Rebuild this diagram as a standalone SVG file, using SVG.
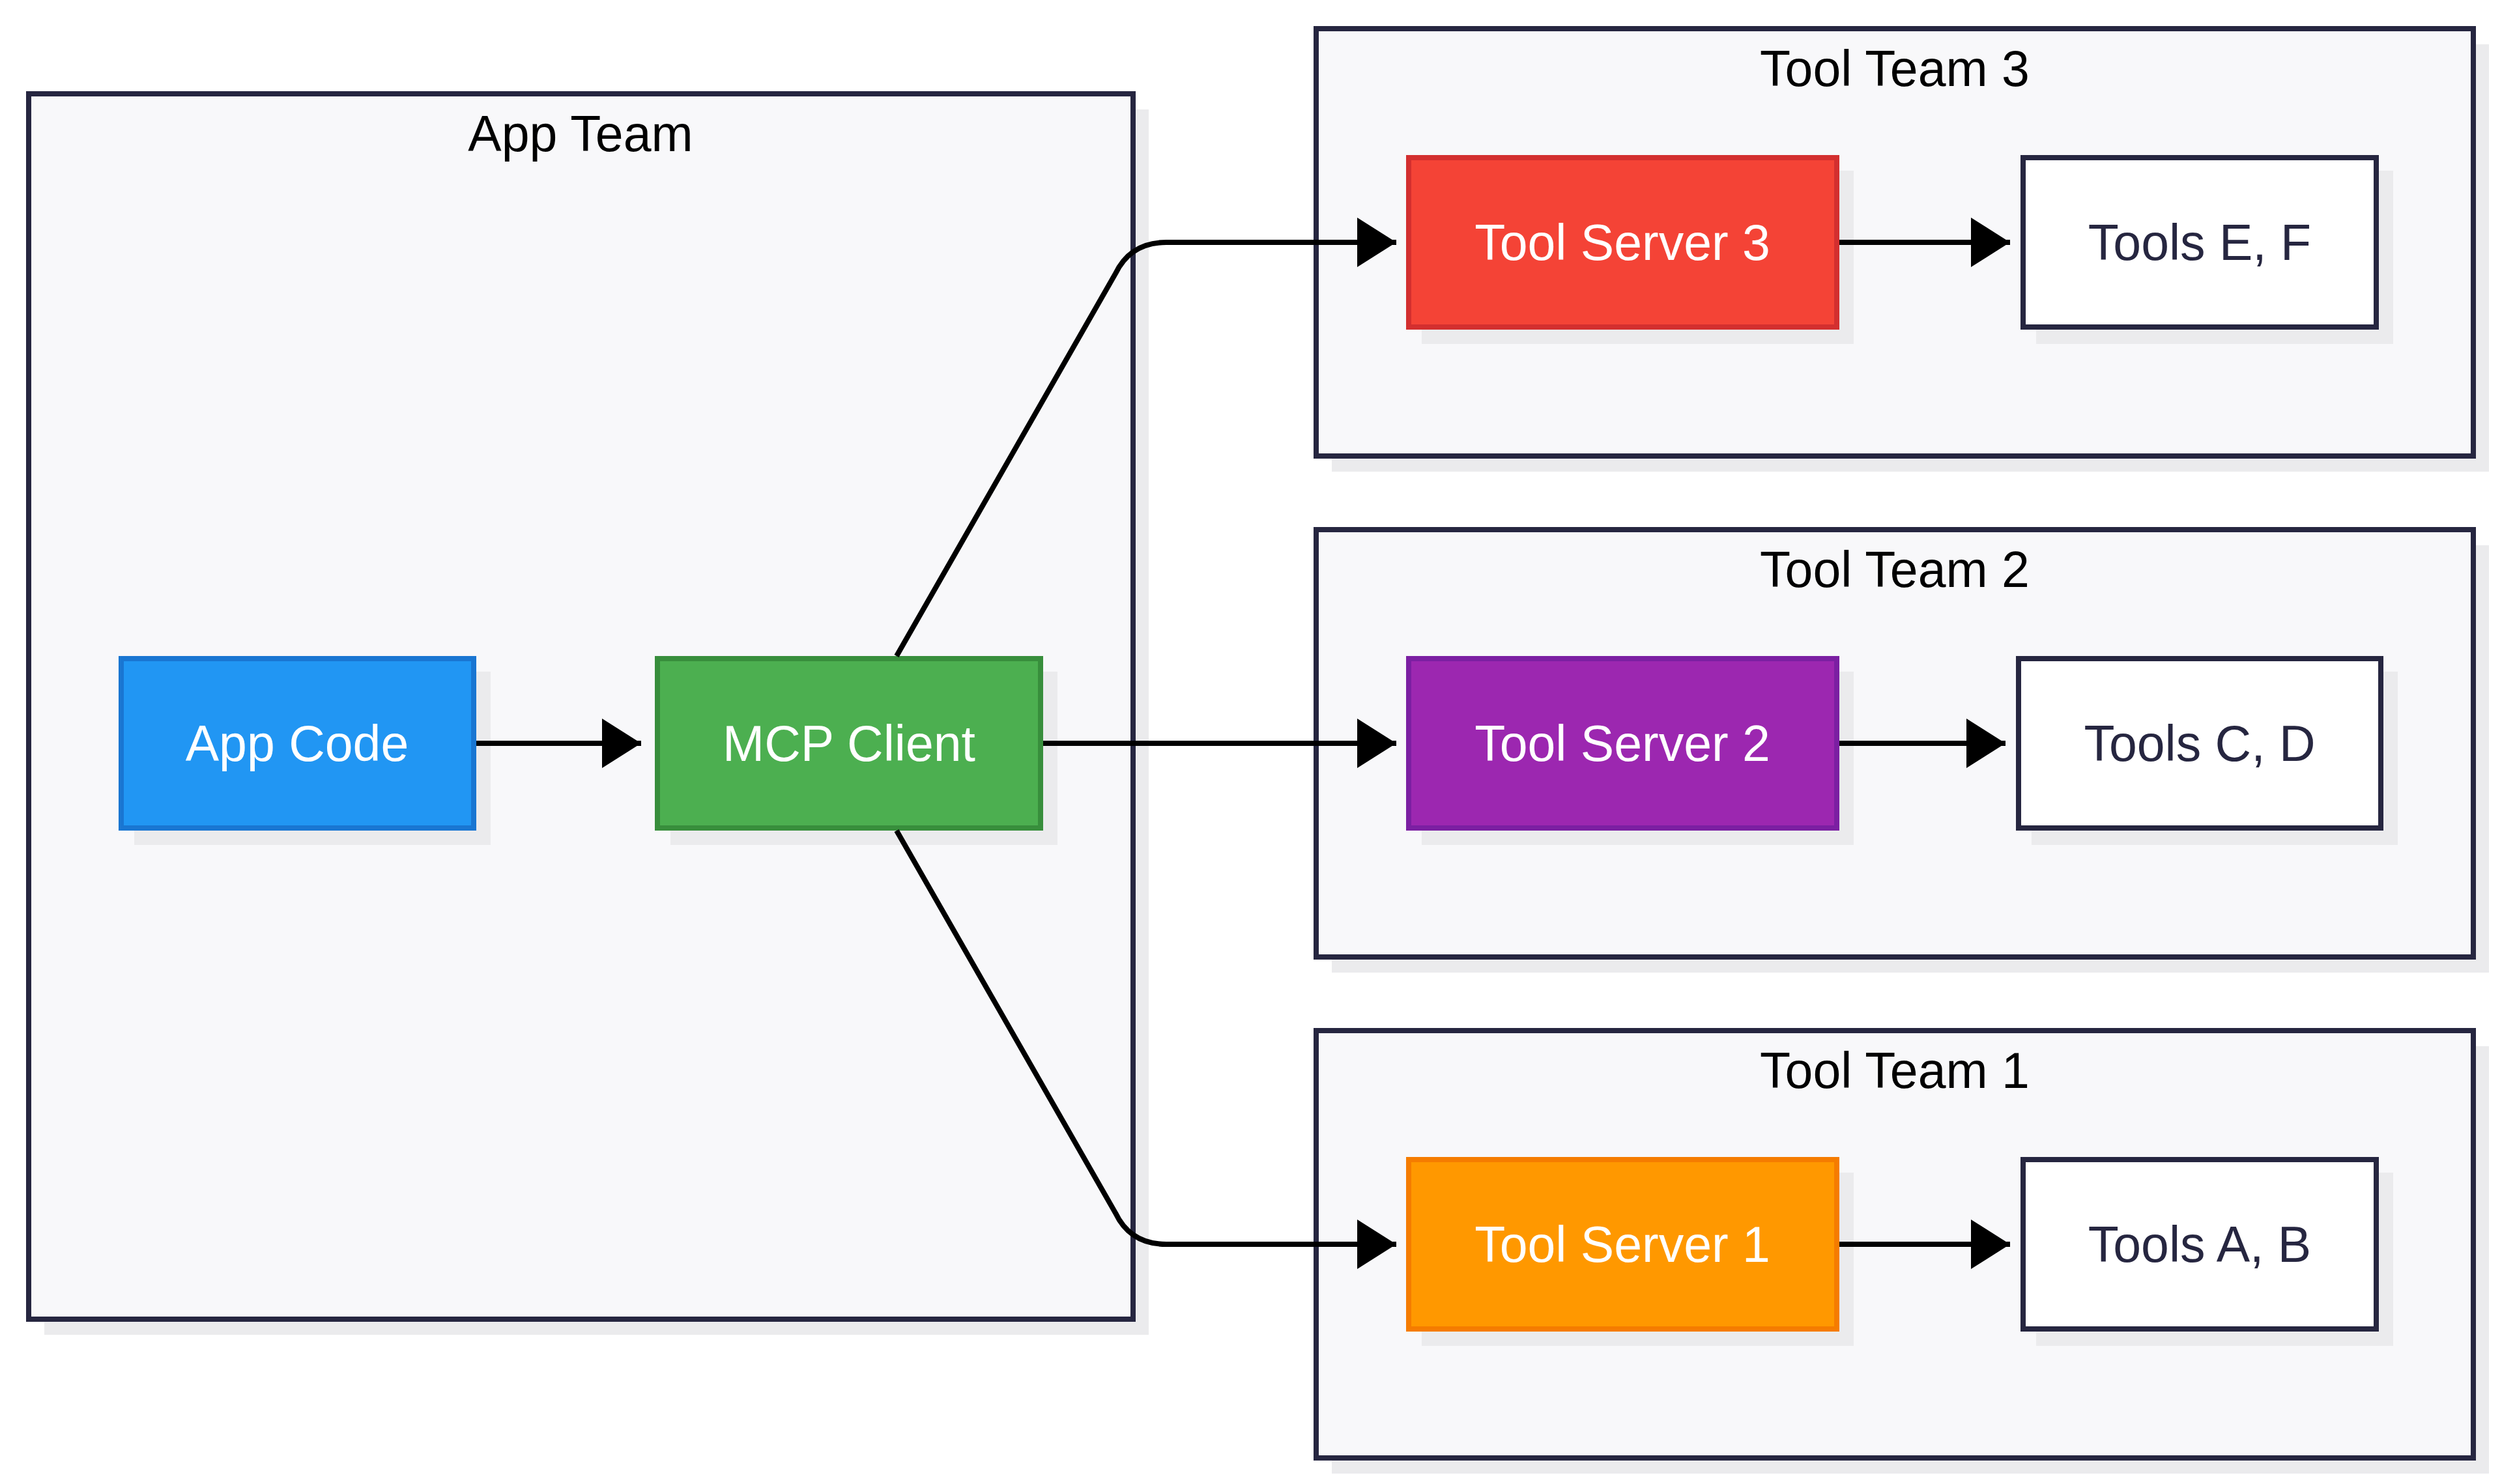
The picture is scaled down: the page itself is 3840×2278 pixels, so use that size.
<svg xmlns="http://www.w3.org/2000/svg" width="3840" height="2278" viewBox="0 0 3840 2278">
<style>
.cont{fill:#f8f8fa;stroke:#262640;stroke-width:8}
.sh{fill:#ebebed}
.n{stroke-width:8}
.t{font-family:"Liberation Sans",Arial,sans-serif;font-size:77px;text-anchor:middle;dominant-baseline:central}
.w{fill:#ffffff}
.d{fill:#262640}
.e{fill:none;stroke:#000;stroke-width:8}
</style>
<defs>
<marker id="ah" markerUnits="userSpaceOnUse" markerWidth="62" markerHeight="76" refX="60" refY="38" orient="auto"><path d="M0,0 L60,38 L0,76 Z" fill="#000"/></marker>
</defs>
<rect class="sh" x="68" y="168" width="1695" height="1881"/>
<rect class="sh" x="2044" y="68" width="1776" height="656"/>
<rect class="sh" x="2044" y="837" width="1776" height="656"/>
<rect class="sh" x="2044" y="1606" width="1776" height="656"/>
<g id="appTeam"><rect class="cont" x="44" y="144" width="1695" height="1881"/><text class="t" x="891" y="205" fill="#000">App Team</text></g>
<g id="toolTeam3"><rect class="cont" x="2020" y="44" width="1776" height="656"/><text class="t" x="2908" y="105" fill="#000">Tool Team 3</text></g>
<g id="toolTeam2"><rect class="cont" x="2020" y="813" width="1776" height="656"/><text class="t" x="2908" y="874" fill="#000">Tool Team 2</text></g>
<g id="toolTeam1"><rect class="cont" x="2020" y="1582" width="1776" height="656"/><text class="t" x="2908" y="1643" fill="#000">Tool Team 1</text></g>
<g id="appCode"><rect class="sh" x="206" y="1031" width="547" height="266"/><rect class="n" x="186" y="1011" width="541" height="260" fill="#2196f3" stroke="#1976d2"/><text class="t w" x="456" y="1141">App Code</text></g>
<g id="mcpClient"><rect class="sh" x="1029" y="1031" width="594" height="266"/><rect class="n" x="1009" y="1011" width="588" height="260" fill="#4caf50" stroke="#388e3c"/><text class="t w" x="1303" y="1141">MCP Client</text></g>
<g id="server3"><rect class="sh" x="2182" y="262" width="663" height="266"/><rect class="n" x="2162" y="242" width="657" height="260" fill="#f44336" stroke="#d32f2f"/><text class="t w" x="2490" y="372">Tool Server 3</text></g>
<g id="server2"><rect class="sh" x="2182" y="1031" width="663" height="266"/><rect class="n" x="2162" y="1011" width="657" height="260" fill="#9c27b0" stroke="#7b1fa2"/><text class="t w" x="2490" y="1141">Tool Server 2</text></g>
<g id="server1"><rect class="sh" x="2182" y="1800" width="663" height="266"/><rect class="n" x="2162" y="1780" width="657" height="260" fill="#ff9800" stroke="#f57c00"/><text class="t w" x="2490" y="1910">Tool Server 1</text></g>
<g id="toolsEF"><rect class="sh" x="3125" y="262" width="548" height="266"/><rect class="n" x="3105" y="242" width="542" height="260" fill="#fff" stroke="#262640"/><text class="t d" x="3376" y="372">Tools E, F</text></g>
<g id="toolsCD"><rect class="sh" x="3118" y="1031" width="562" height="266"/><rect class="n" x="3098" y="1011" width="556" height="260" fill="#fff" stroke="#262640"/><text class="t d" x="3376" y="1141">Tools C, D</text></g>
<g id="toolsAB"><rect class="sh" x="3125" y="1800" width="548" height="266"/><rect class="n" x="3105" y="1780" width="542" height="260" fill="#fff" stroke="#262640"/><text class="t d" x="3376" y="1910">Tools A, B</text></g>
<g id="connectors">
<path class="e" d="M731,1141 H984" marker-end="url(#ah)"/>
<path class="e" d="M1376,1007 L1712,420 Q1735,372 1790,372 H2143" marker-end="url(#ah)"/>
<path class="e" d="M1601,1141 H2143" marker-end="url(#ah)"/>
<path class="e" d="M1376,1275 L1712,1862 Q1735,1910 1790,1910 H2143" marker-end="url(#ah)"/>
<path class="e" d="M2823,372 H3085" marker-end="url(#ah)"/>
<path class="e" d="M2823,1141 H3078" marker-end="url(#ah)"/>
<path class="e" d="M2823,1910 H3085" marker-end="url(#ah)"/>
</g>
</svg>
